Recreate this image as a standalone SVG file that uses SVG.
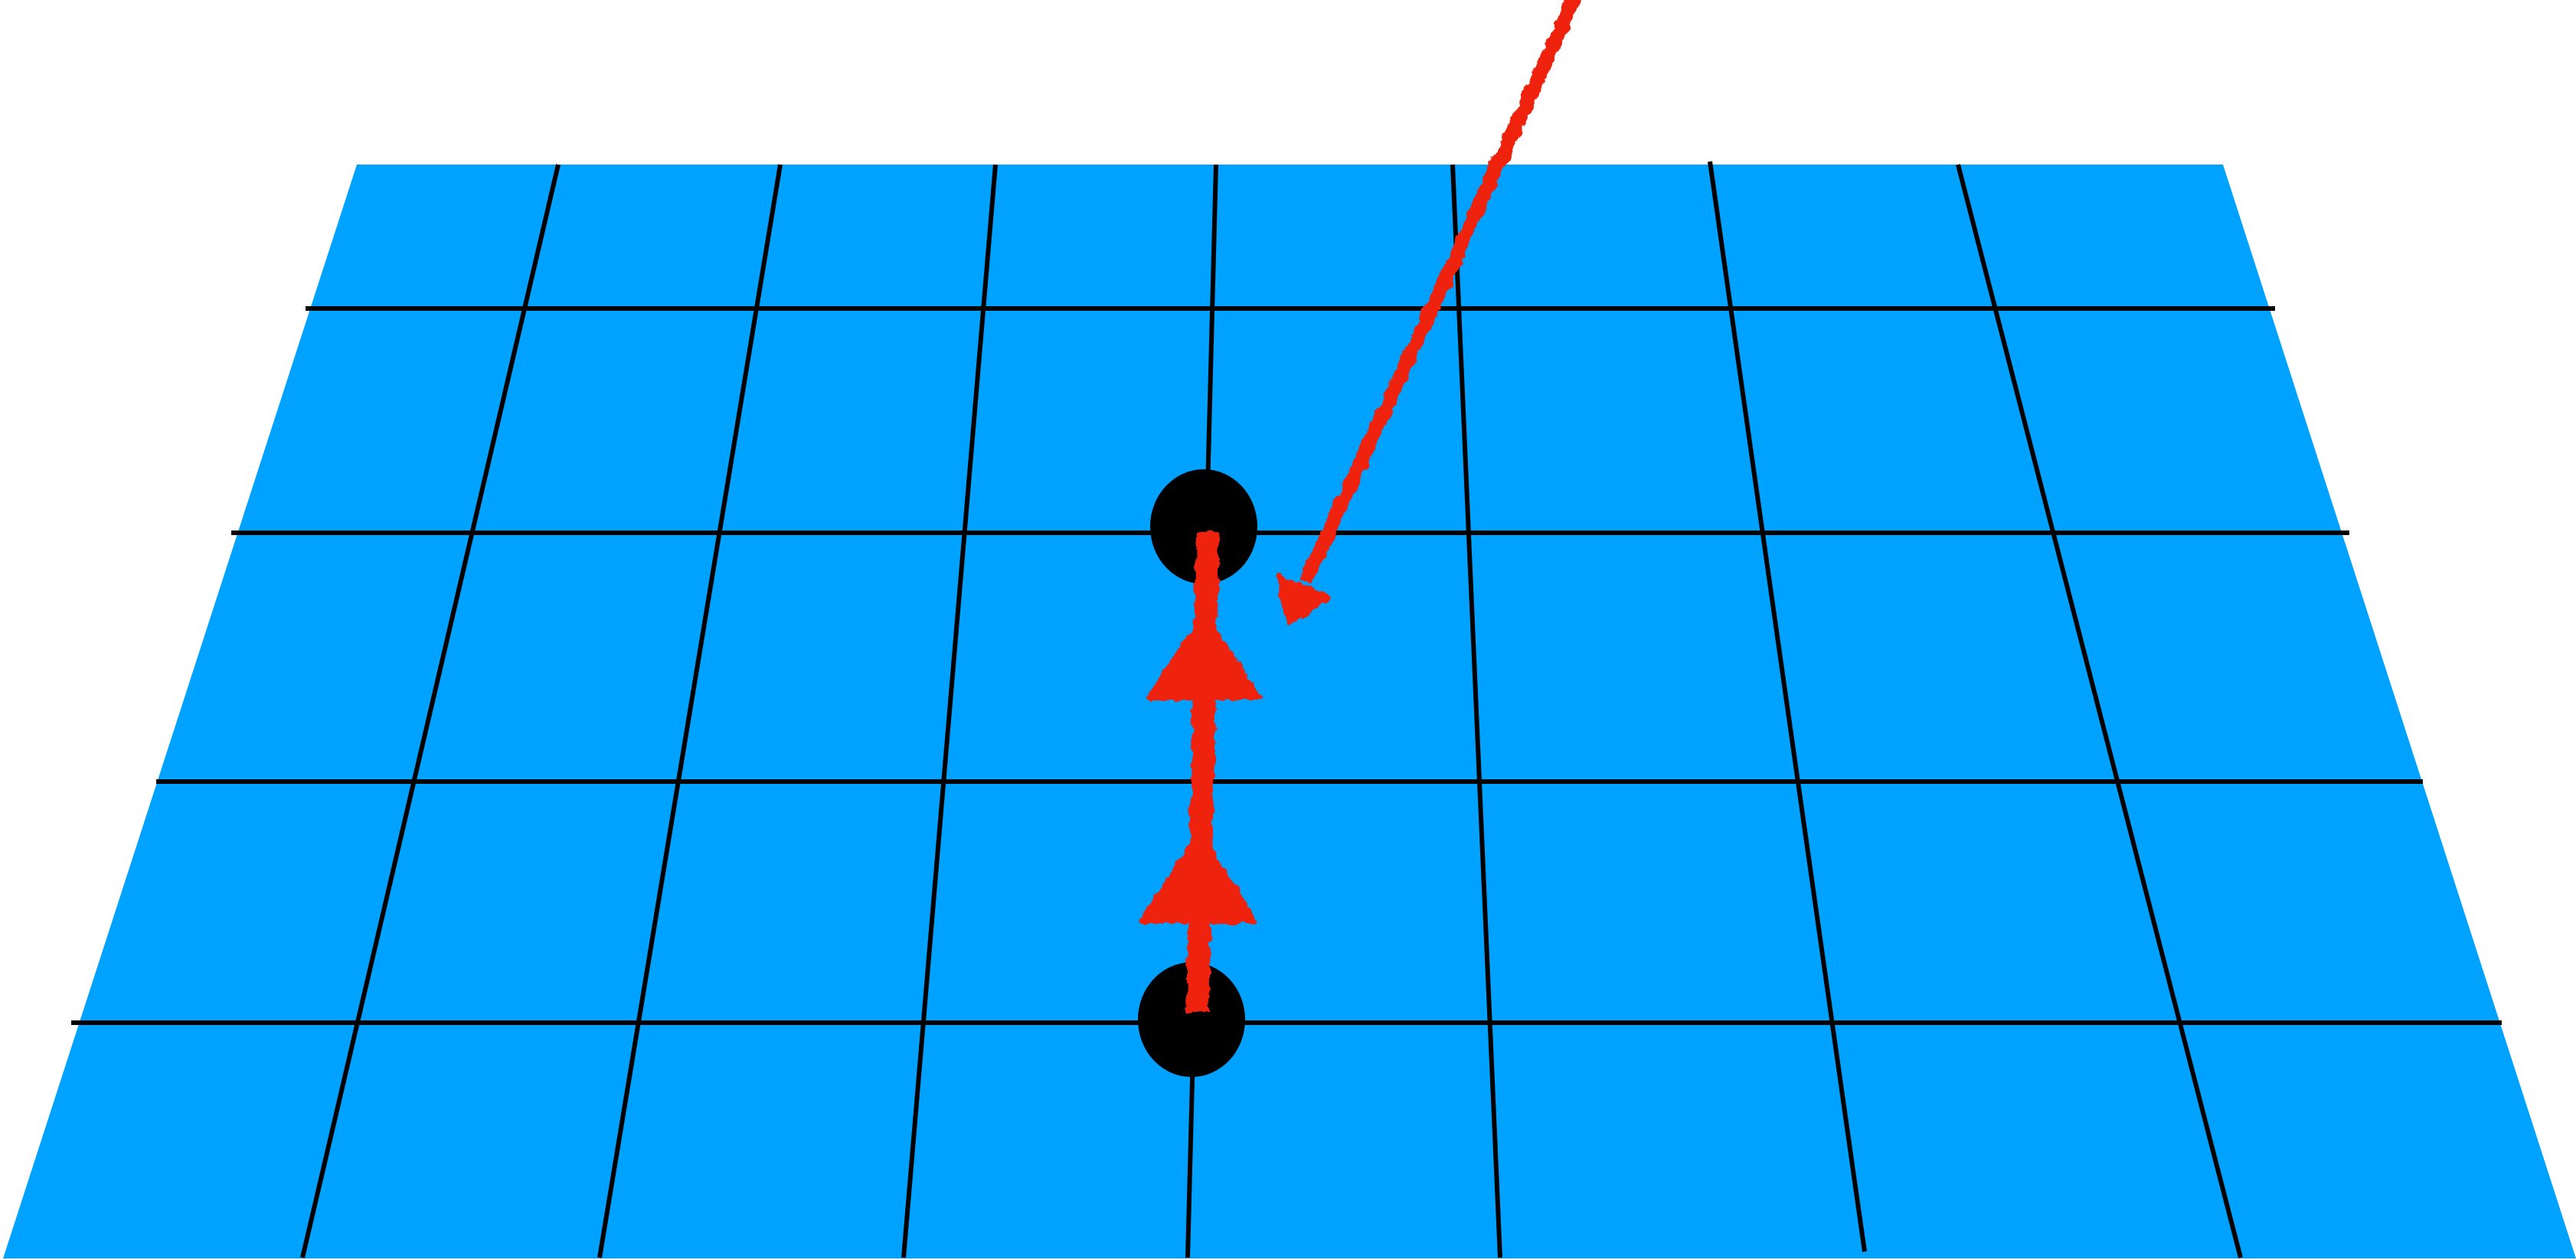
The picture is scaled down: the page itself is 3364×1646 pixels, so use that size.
<svg xmlns="http://www.w3.org/2000/svg" width="3364" height="1646" viewBox="0 0 3364 1646">
<style>
.plane{fill:#00A2FF}
.grid{stroke:#000;stroke-width:6;fill:none}
.dot{fill:#000}
.red{fill:#EE2211;stroke:#EE2211;stroke-linejoin:round}
.rough{filter:url(#rough)}
</style>
<defs>
<filter id="rough" filterUnits="userSpaceOnUse" x="0" y="-20" width="3364" height="1680">
<feTurbulence type="fractalNoise" baseFrequency="0.06" numOctaves="3" seed="7" result="n"/>
<feDisplacementMap in="SourceGraphic" in2="n" scale="11" xChannelSelector="R" yChannelSelector="G"/>
</filter>
</defs>
<rect width="3364" height="1646" fill="#fff"/>
<g id="plane">
<polygon class="plane" points="466,215 2903,215 3364,1644 4,1644"/>
</g>
<g id="grid" class="grid">
<line x1="399" y1="403" x2="2971" y2="403"/>
<line x1="302" y1="696" x2="3068" y2="696"/>
<line x1="204" y1="1021" x2="3164" y2="1021"/>
<line x1="93" y1="1336" x2="3267" y2="1336"/>
<line x1="729" y1="215" x2="395" y2="1643"/>
<line x1="1019" y1="215" x2="783" y2="1643"/>
<line x1="1300" y1="215" x2="1180" y2="1643"/>
<line x1="1588" y1="215" x2="1551" y2="1643"/>
<line x1="1897" y1="215" x2="1959" y2="1643"/>
<line x1="2233" y1="211" x2="2435" y2="1635"/>
<line x1="2557" y1="215" x2="2926" y2="1643"/>
</g>
<g id="node-top">
<ellipse class="dot" cx="1572" cy="688" rx="70" ry="75"/>
</g>
<g id="node-bottom">
<ellipse class="dot" cx="1556" cy="1332" rx="70" ry="75"/>
</g>
<g id="connectors" class="rough">
<g id="vertical-arrow" class="red">
<line x1="1564" y1="1323" x2="1577" y2="695" stroke-width="30"/>
<polygon points="1572,802 1645,912 1500,912" stroke-width="6"/>
<polygon points="1566,1087 1638,1203 1490,1203" stroke-width="6"/>
</g>
<g id="diagonal-arrow" class="red">
<line x1="2058" y1="-5" x2="1705" y2="760" stroke-width="18"/>
<polygon points="1683,813 1671,754 1733,780" stroke-width="8"/>
</g>
</g>
</svg>
